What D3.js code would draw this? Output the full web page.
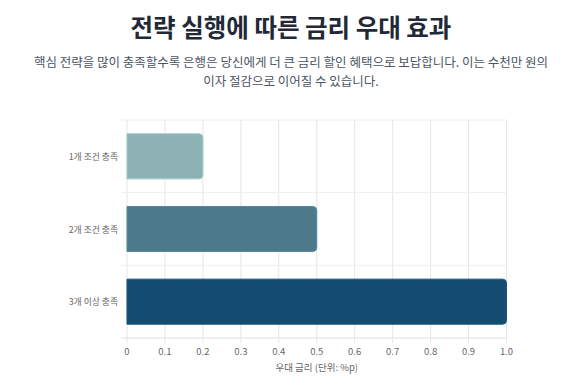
<!DOCTYPE html>
<html><head><meta charset="utf-8">
<script src="https://cdn.jsdelivr.net/npm/d3@7"></script>
<style>
body{margin:0;background:#fff;font-family:"Noto Sans CJK KR","Noto Sans",sans-serif;}
</style></head>
<body><svg id="c" width="582" height="389"></svg>
<script>
const title = "전략 실행에 따른 금리 우대 효과";
const subtitleLines = ["핵심 전략을 많이 충족할수록 은행은 당신에게 더 큰 금리 할인 혜택으로 보답합니다. 이는 수천만 원의", "이자 절감으로 이어질 수 있습니다."];
const categories = ["1개 조건 충족", "2개 조건 충족", "3개 이상 충족"];
const values = [0.2, 0.5, 1.0];
const colors = ["#8eb2b3", "#4d7a8b", "#154c72"];
const xTicks = [0,0.1,0.2,0.3,0.4,0.5,0.6,0.7,0.8,0.9,1.0];
const xTitle = "우대 금리 (단위: %p)";

const svg = d3.select("#c");
const font = '"Noto Sans CJK KR","Noto Sans",sans-serif';
svg.append("text").attr("x",291).attr("y",37).attr("text-anchor","middle")
  .attr("font-size",24.5).attr("font-weight",700).attr("fill","#1f2937").attr("font-family",font).text(title);
subtitleLines.forEach((t,i)=>svg.append("text").attr("x",291).attr("y",67+i*19).attr("text-anchor","middle")
  .attr("font-size",12.5).attr("fill","#4b5563").attr("font-family",font).text(t));

const L=127,R=506.5,T=120,B=338;
const x = d3.scaleLinear().domain([0,1]).range([L,R]);
const y = d3.scaleBand().domain(categories).range([T,B]);
const g = svg.append("g");
// vertical grid
xTicks.forEach(v=>g.append("line").attr("x1",x(v)).attr("x2",x(v)).attr("y1",T).attr("y2",B+5)
  .attr("stroke","#e6e6e6").attr("stroke-width",1));
// horizontal grid at band boundaries
const bounds = categories.map(c=>y(c)).concat([B]);
bounds.forEach(v=>g.append("line").attr("x1",L-6).attr("x2",R).attr("y1",v).attr("y2",v)
  .attr("stroke", v===B? "#e0e0e0":"#eeeeee").attr("stroke-width",1));

// bars
const bw = y.bandwidth()*0.62;
categories.forEach((c,i)=>{
  const x0=x(0), x1=x(values[i]), y0=y(c)+(y.bandwidth()-bw)/2, r=4;
  const p=`M${x0},${y0}H${x1-r}Q${x1},${y0} ${x1},${y0+r}V${y0+bw-r}Q${x1},${y0+bw} ${x1-r},${y0+bw}H${x0}Z`;
  g.append("path").attr("d",p).attr("fill",colors[i]).attr("stroke",d3.color(colors[i]).brighter(0.3)).attr("stroke-width",1);
});

// y labels
categories.forEach(c=>g.append("text").attr("x",L-9).attr("y",y(c)+y.bandwidth()/2+3.5).attr("text-anchor","end")
  .attr("font-size",8.8).attr("fill","#666").attr("font-family",font).text(c));
// x tick labels
xTicks.forEach(v=>g.append("text").attr("x",x(v)).attr("y",B+17).attr("text-anchor","middle")
  .attr("font-size",9.5).attr("fill","#666").attr("font-family",font).text(v===0?"0":d3.format(".1f")(v)));
svg.append("text").attr("x",(L+R)/2).attr("y",B+33).attr("text-anchor","middle")
  .attr("font-size",9.5).attr("fill","#666").attr("font-family",font).text(xTitle);
</script></body></html>
